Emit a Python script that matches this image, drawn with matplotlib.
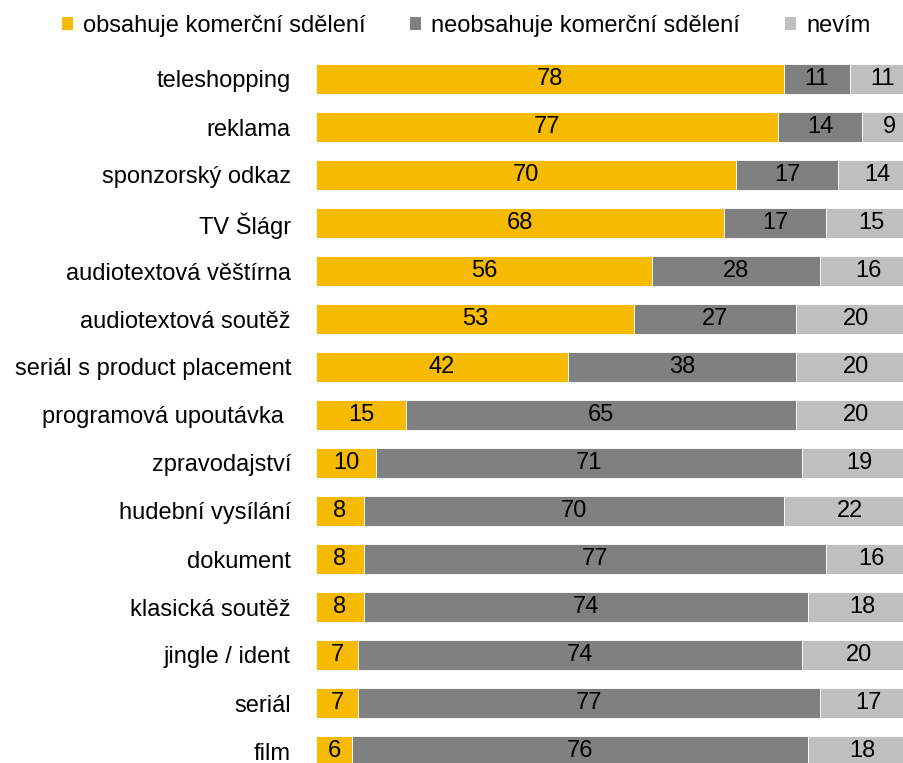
import matplotlib.pyplot as plt
from matplotlib.patches import Patch

plt.rcParams['font.family'] = ['Liberation Sans', 'DejaVu Sans']

# data (percent)
categories = ['teleshopping', 'reklama', 'sponzorský odkaz', 'TV Šlágr',
              'audiotextová věštírna', 'audiotextová soutěž',
              'seriál s product placement', 'programová upoutávka ',
              'zpravodajství', 'hudební vysílání', 'dokument',
              'klasická soutěž', 'jingle / ident', 'seriál', 'film']
obsahuje = [78, 77, 70, 68, 56, 53, 42, 15, 10, 8, 8, 8, 7, 7, 6]
neobsahuje = [11, 14, 17, 17, 28, 27, 38, 65, 71, 70, 77, 74, 74, 77, 76]
nevim = [11, 9, 14, 15, 16, 20, 20, 20, 19, 22, 16, 18, 20, 17, 18]

series_names = ['obsahuje komerční sdělení', 'neobsahuje komerční sdělení', 'nevím']
colors = ['#F6BB00', '#808080', '#BFBFBF']

W, H = 904, 763
fig = plt.figure(figsize=(W / 100, H / 100), dpi=100)
# axes run past the right edge, like the cropped original
ax = fig.add_axes([316 / W, -12 / H, 600 / W, 720 / H])

y = list(range(len(categories)))
left = [0] * len(categories)
for vals, name, col in zip([obsahuje, neobsahuje, nevim], series_names, colors):
    bars = ax.barh(y, vals, left=left, height=0.64, color=col,
                   edgecolor='white', linewidth=0.6, label=name)
    ax.bar_label(bars, labels=[str(v) for v in vals], label_type='center',
                 fontsize=17, color='black')
    left = [a + b for a, b in zip(left, vals)]

ax.set_xlim(0, 100)
ax.set_ylim(len(categories) - 0.5, -0.5)
ax.set_yticks(y)
ax.set_yticklabels(categories, fontsize=17)
ax.tick_params(axis='y', length=0, pad=18)
ax.set_xticks([])
for s in ax.spines.values():
    s.set_visible(False)

handles = [Patch(facecolor=c, edgecolor='none') for c in colors]
fig.legend(handles, series_names, loc='upper left', bbox_to_anchor=(62 / W, 1 - 15 / H),
           ncol=3, frameon=False, fontsize=17, handlelength=0.47, handleheight=0.47,
           handletextpad=0.42, columnspacing=1.9, borderpad=0, borderaxespad=0)

fig.savefig('out.png', dpi=100)
